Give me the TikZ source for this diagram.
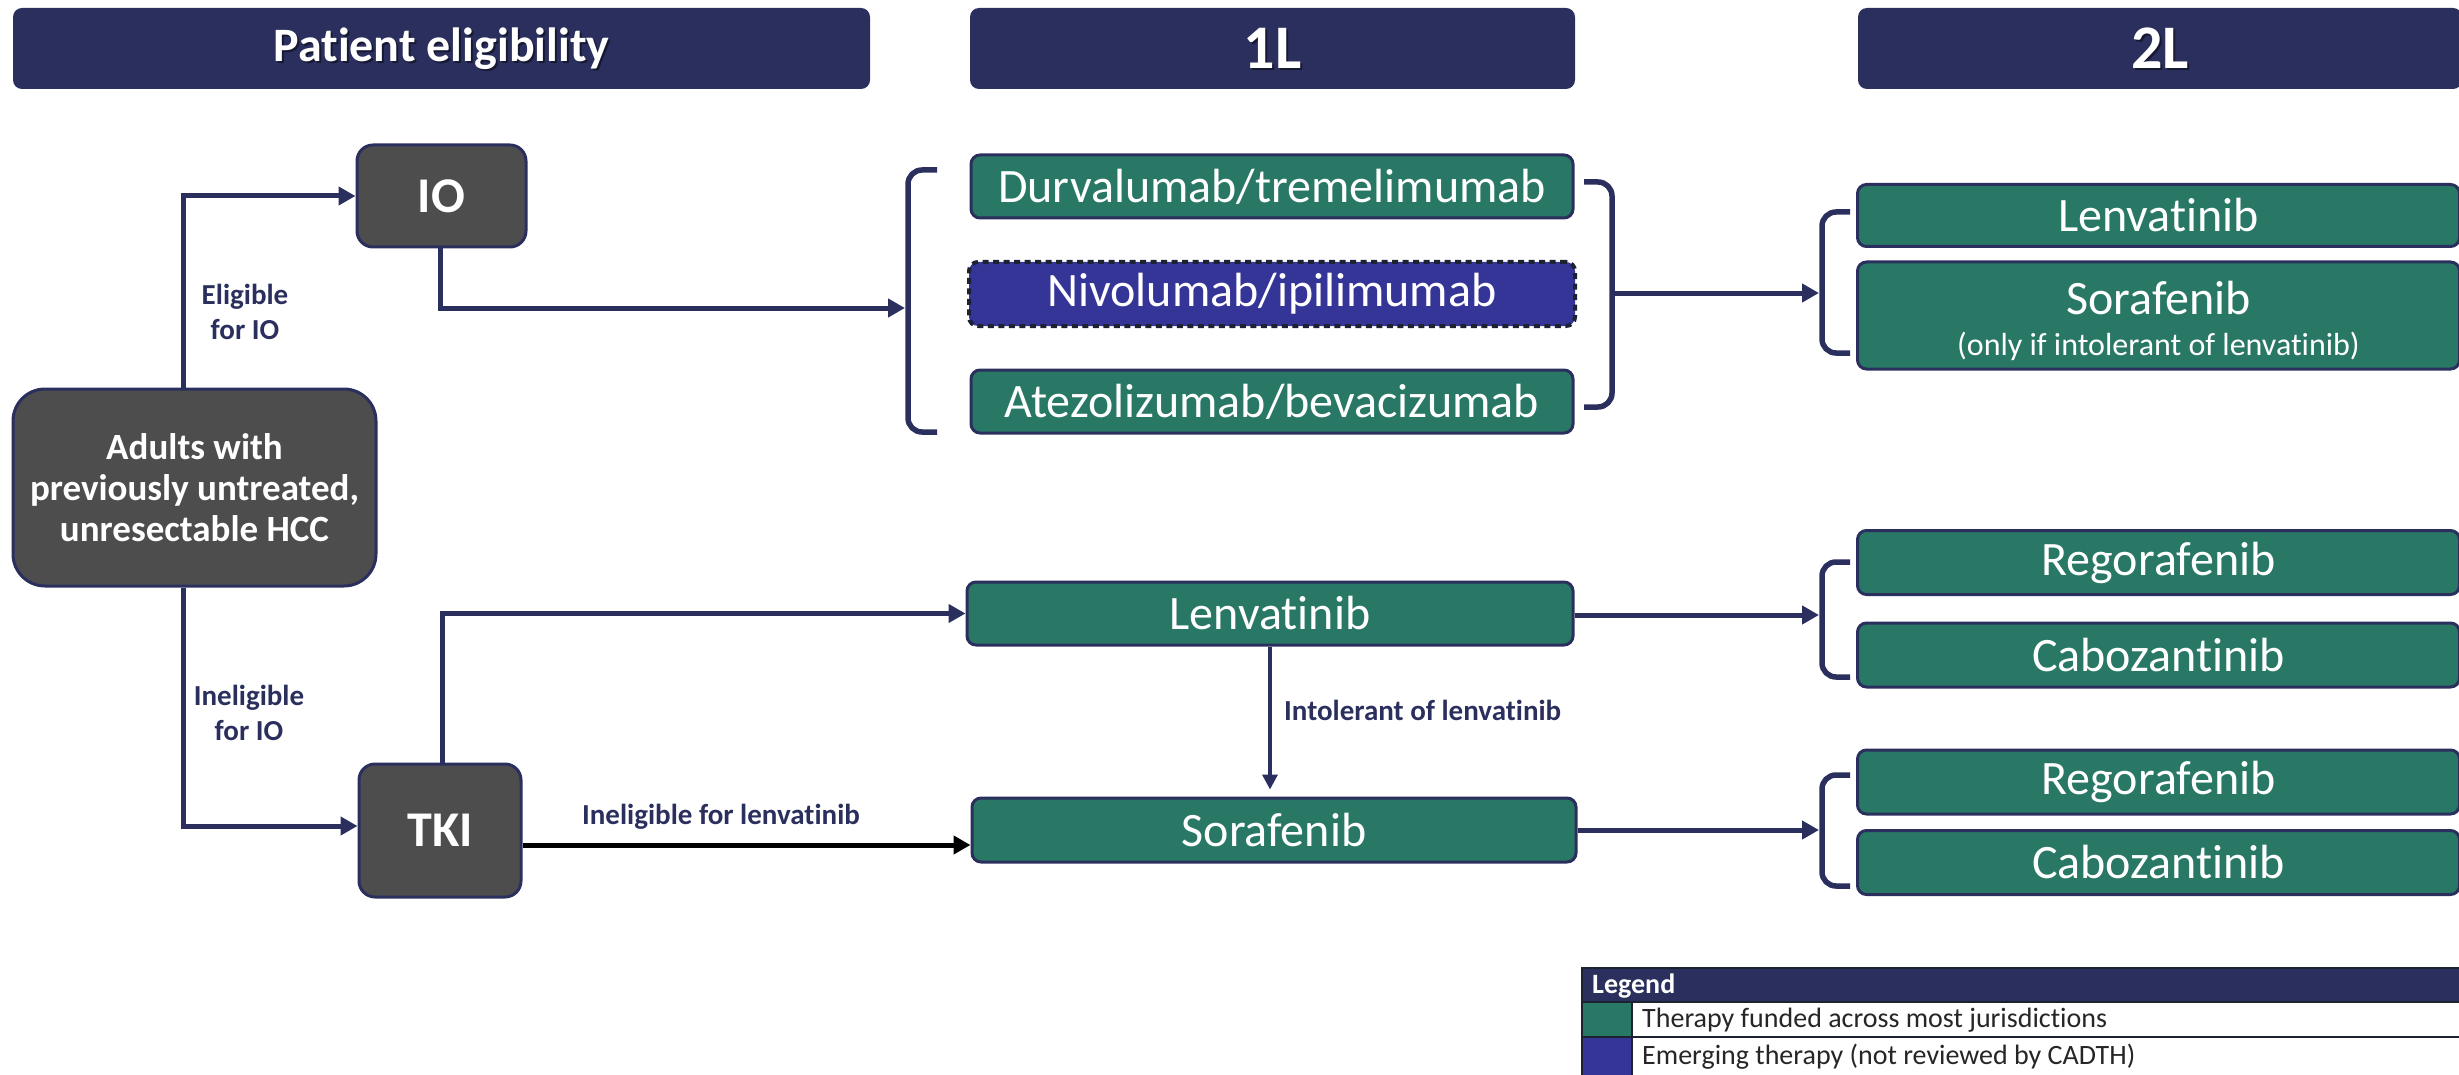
\documentclass[tikz,border=0pt]{standalone}
\usepackage{fontspec}
\setmainfont{Carlito}[RawFeature={-liga;-clig;-calt;-dlig}]
\usetikzlibrary{arrows.meta}
\definecolor{navy}{HTML}{2B2F5E}
\definecolor{teal}{HTML}{297866}
\definecolor{emerg}{HTML}{353598}
\definecolor{slate}{HTML}{4D4D4D}
\definecolor{rule}{HTML}{1C2230}
\newcommand\fsz[2]{\fontsize{#1}{#2}\selectfont}

\begin{document}
\begin{tikzpicture}[x=1pt,y=-1pt,
  hdrbox/.style={fill=navy, rounded corners=9pt, inner sep=0pt, minimum height=81pt},
  hdrtext/.style={text=white, font=\bfseries\fsz{#1}{#1}, inner sep=0pt},
  hdrshadow/.style={text=black, opacity=0.45, font=\bfseries\fsz{#1}{#1}, inner sep=0pt},
  drug/.style={fill=teal, draw=navy, line width=3pt, rounded corners=9pt, inner sep=0pt,
    text=white, font=\fsz{48}{56}, minimum height=63pt},
  grp/.style={fill=slate, draw=navy, line width=3pt, text=white, inner sep=0pt},
  conn/.style={draw=navy, line width=5pt, -{Triangle[length=17pt,width=18pt]}},
  thinconn/.style={draw=navy, line width=3.5pt, -{Triangle[length=15pt,width=15pt]}},
  blkconn/.style={draw=black, line width=5pt, -{Triangle[length=17pt,width=18pt]}},
  brk/.style={draw=navy, line width=5.5pt, rounded corners=14pt},
  lbl/.style={text=navy, font=\bfseries\fsz{29}{35}, align=center, inner sep=0pt},
  legtext/.style={text=black!85, font=\fsz{28}{30}, inner sep=0pt, anchor=west},
]
\useasboundingbox (0,0) rectangle (2459,1075);
\clip (0,0) rectangle (2459,1075);

% ---------- column headers ----------
\node[hdrbox, minimum width=857pt] (hpe) at (441.5,48.5) {};
\node[hdrshadow=48] (hpe-s) at (443.5,50.5) {Patient eligibility};
\node[hdrtext=48] (hpe-t) at (441.5,48.5) {Patient eligibility};

\node[hdrbox, minimum width=605pt] (h1l) at (1272.5,48.5) {};
\node[hdrshadow=62] (h1l-s) at (1274.5,50.5) {1L};
\node[hdrtext=62] (h1l-t) at (1272.5,48.5) {1L};

\node[hdrbox, minimum width=604pt] (h2l) at (2160,48.5) {};
\node[hdrshadow=62] (h2l-s) at (2162,50.5) {2L};
\node[hdrtext=62] (h2l-t) at (2160,48.5) {2L};

% ---------- eligibility ----------
\node[grp, rounded corners=32pt, minimum width=363pt, minimum height=197pt,
      font=\bfseries\fsz{37}{41}, align=center] (adults) at (194.5,487.5)
      {Adults with\\previously untreated,\\unresectable HCC};
\node[grp, rounded corners=16pt, minimum width=169pt, minimum height=102pt,
      font=\bfseries\fsz{50}{50}] (io) at (441.5,196) {IO};
\node[grp, rounded corners=16pt, minimum width=162pt, minimum height=133pt,
      font=\bfseries\fsz{50}{50}] (tki) at (440,830.5) {TKI};

% ---------- first line ----------
\node[drug, minimum width=602pt] (durva) at (1272,186.5) {Durvalumab/tremelimumab};
\node[drug, fill=emerg, draw=rule, dash pattern=on 6pt off 4.5pt, line width=4pt,
      minimum width=606pt, minimum height=64pt] (nivo) at (1272,294) {Nivolumab/ipilimumab};
\node[drug, minimum width=602pt] (atezo) at (1272,401.5) {Atezolizumab/bevacizumab};

\node[drug, minimum width=606pt] (len1) at (1270,613.5) {Lenvatinib};
\node[drug, minimum width=604pt, minimum height=64pt] (sor1) at (1274,830) {Sorafenib};

% ---------- second line ----------
\node[drug, minimum width=602pt, minimum height=62pt] (len2) at (2158.5,215.5) {Lenvatinib};
\node[drug, minimum width=602pt, minimum height=107pt] (sor2) at (2158.5,315.5) {};
\node[text=white, font=\fsz{48}{48}, inner sep=0pt] (sor2-name) at (2158.5,298) {Sorafenib};
\node[text=white, font=\fsz{32}{32}, inner sep=0pt] (sor2-note) at (2158.5,346)
      {(only if intolerant of lenvatinib)};

\node[drug, minimum width=602pt, minimum height=64pt] (rego1) at (2158.5,562.5) {Regorafenib};
\node[drug, minimum width=602pt, minimum height=64pt] (cabo1) at (2158.5,655) {Cabozantinib};
\node[drug, minimum width=602pt, minimum height=64pt] (rego2) at (2158.5,782) {Regorafenib};
\node[drug, minimum width=602pt, minimum height=64pt] (cabo2) at (2158.5,862.5) {Cabozantinib};

% ---------- brackets grouping the options ----------
\draw[brk] (937,170) -- (908,170) -- (908,432) -- (937,432);
\draw[brk] (1584,182) -- (1612,182) -- (1612,407) -- (1584,407);
\draw[brk] (1850,212) -- (1822,212) -- (1822,353) -- (1850,353);
\draw[brk] (1850,562) -- (1822,562) -- (1822,677) -- (1850,677);
\draw[brk] (1850,775) -- (1822,775) -- (1822,886) -- (1850,886);

\coordinate (io-in) at (905,308);
\coordinate (brk-out) at (1612,293);
\coordinate (top2-in) at (1819,293);
\coordinate (mid2-in) at (1819,615);
\coordinate (low2-in) at (1819,830);

% ---------- connectors ----------
\draw[conn] ([xshift=-11.5pt]adults.north) |- (io.west);
\draw[conn] ([xshift=-11.5pt]adults.south) |- ([yshift=4.5pt]tki.west);
\draw[conn] ([xshift=-1.5pt]io.south) |- (io-in);
\draw[conn] ([xshift=2pt]tki.north) |- (len1.west);
\draw[blkconn] ([yshift=-14.5pt]tki.east) -- ([yshift=-15pt]sor1.west);
\draw[conn] (brk-out) -- (top2-in);
\draw[conn] (len1.east |- mid2-in) -- (mid2-in);
\draw[conn] (sor1.east |- low2-in) -- (low2-in);
\draw[thinconn, shorten >=7pt] (len1.south) -- (len1.south |- sor1.north);

% ---------- connector labels ----------
\node[lbl] (lbl-elig) at (245,312) {Eligible\\for IO};
\node[lbl] (lbl-inel) at (249,713) {Ineligible\\for IO};
\node[lbl] (lbl-lenv) at (721,817) {Ineligible for lenvatinib};
\node[lbl, anchor=west] (lbl-intol) at (1284,710) {Intolerant of lenvatinib};

% ---------- legend ----------
\node[fill=navy, draw=rule, line width=1.5pt, anchor=north west, minimum width=900pt,
      minimum height=34pt, inner sep=0pt] (leg-head) at (1581,967) {};
\node[text=white, font=\bfseries\fsz{28}{30}, inner sep=0pt, anchor=west] (leg-title) at (1592,986) {Legend};
\node[fill=teal, draw=rule, line width=1.5pt, anchor=north west, minimum width=50pt,
      minimum height=35pt, inner sep=0pt] (leg-sq1) at (1581,1001) {};
\node[fill=white, draw=rule, line width=1.5pt, anchor=north west, minimum width=850pt,
      minimum height=35pt, inner sep=0pt] (leg-row1) at (1631,1001) {};
\node[fill=emerg, draw=rule, line width=1.5pt, anchor=north west, minimum width=50pt,
      minimum height=45pt, inner sep=0pt] (leg-sq2) at (1581,1036) {};
\node[fill=white, draw=rule, line width=1.5pt, anchor=north west, minimum width=850pt,
      minimum height=45pt, inner sep=0pt] (leg-row2) at (1631,1036) {};
\node[legtext] (leg-t1) at (1642,1020.5) {Therapy funded across most jurisdictions};
\node[legtext] (leg-t2) at (1642,1057) {Emerging therapy (not reviewed by CADTH)};
\end{tikzpicture}
\end{document}
